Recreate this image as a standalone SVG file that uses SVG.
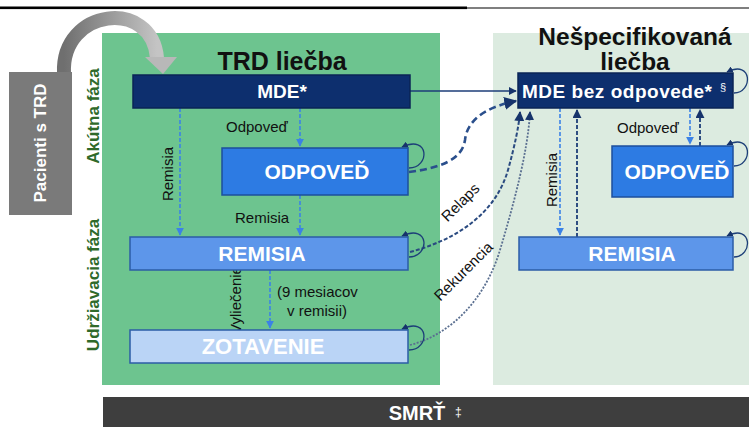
<svg xmlns="http://www.w3.org/2000/svg" width="749" height="427" viewBox="0 0 749 427">
<defs>
<style>
.t{font-family:"Liberation Sans",Arial,sans-serif}
.bw{fill:#ffffff;font-weight:bold;text-anchor:middle}
.lbl{fill:#111111;font-size:15px}
.ph{fill:#2f6a2a;font-size:17px;font-weight:bold;text-anchor:middle}
.navy{fill:#0d2f6e;stroke:#0a2556;stroke-width:1.5}
.odp{fill:#2d7be3;stroke:#1d4f9c;stroke-width:1.5}
.rem{fill:#5d96ea;stroke:#2b5ca6;stroke-width:1.5}
.zot{fill:#bad4f6;stroke:#2b5ca6;stroke-width:1.5}
.loop{fill:none;stroke:#1d3f78;stroke-width:1.3}
.dblue{fill:none;stroke:#3b82e6;stroke-width:1.6;stroke-dasharray:4 2}
.dnavy{fill:none;stroke:#1c3d78;stroke-width:1.8;stroke-dasharray:4 2}
</style>
<marker id="aN" viewBox="0 0 10 10" refX="9" refY="5" markerWidth="5" markerHeight="5" orient="auto"><path d="M0,0 L10,5 L0,10 z" fill="#16336b"/></marker>
<marker id="aB" viewBox="0 0 10 10" refX="9" refY="5" markerWidth="5" markerHeight="5" orient="auto"><path d="M0,0 L10,5 L0,10 z" fill="#3b82e6"/></marker>
<linearGradient id="gArc" x1="0" y1="0" x2="1" y2="0">
<stop offset="0" stop-color="#6f6f6f"/><stop offset="1" stop-color="#c4c4c4"/>
</linearGradient>
</defs>

<!-- top rule -->
<rect x="0" y="6.5" width="467" height="2.6" fill="#000"/>
<line x1="467" y1="8" x2="749" y2="8" stroke="#000" stroke-width="1.2"/>

<!-- panels -->
<rect x="102" y="33" width="338" height="352" fill="#6dc48f"/>
<rect x="493" y="33" width="256" height="352" fill="#dcebe0"/>
<rect x="103" y="397" width="646" height="30" fill="#3e3e3e"/>

<!-- patient box and arc -->
<g id="pacienti">
<path d="M64 73 C61 8 152 -2 157 58" fill="none" stroke="url(#gArc)" stroke-width="14"/>
<polygon points="145,57 177,57 163,74" fill="#b8b8b8"/>
<rect x="9" y="72" width="63" height="143" fill="#7a7a7a"/>
<text class="t bw" font-size="17" transform="translate(46,143) rotate(-90)">Pacienti s TRD</text>
</g>

<g id="phases">
<text class="t ph" transform="translate(99,116) rotate(-90)">Akútna fáza</text>
<text class="t ph" transform="translate(99,285) rotate(-90)">Udržiavacia fáza</text>
</g>

<g id="titles">
<text class="t" x="282" y="70" font-size="25" font-weight="bold" text-anchor="middle" fill="#111">TRD liečba</text>
<text class="t" x="635" y="45" font-size="24.5" font-weight="bold" text-anchor="middle" fill="#111">Nešpecifikovaná</text>
<text class="t" x="635" y="70" font-size="24.5" font-weight="bold" text-anchor="middle" fill="#111">liečba</text>
</g>

<!-- connectors -->
<g id="connectors">
<path class="dblue" d="M300 108 V146" marker-end="url(#aB)"/>
<path class="dblue" d="M180 108 V235" marker-end="url(#aB)"/>
<path class="dblue" d="M300 195 V235" marker-end="url(#aB)"/>
<path class="dblue" d="M270 270 V328" marker-end="url(#aB)"/>
<path d="M410 91 H516" fill="none" stroke="#1c3d78" stroke-width="1.6" marker-end="url(#aN)"/>
<path d="M409 172 C440 168 462 160 465 140 C467 122 482 108 516 101" fill="none" stroke="#2a4f8c" stroke-width="2.6" stroke-dasharray="7 4" marker-end="url(#aN)"/>
<path d="M410 252 C455 240 495 215 508 170 C515 145 519 125 520 112" fill="none" stroke="#2a4a80" stroke-width="2" stroke-dasharray="4 2" marker-end="url(#aN)"/>
<path d="M410 345 C450 335 485 300 500 250 C515 200 528 150 530 112" fill="none" stroke="#5a6f90" stroke-width="1.8" stroke-dasharray="2 1.5" marker-end="url(#aN)"/>
<path class="dblue" d="M560 108 V235" marker-end="url(#aB)"/>
<path class="dnavy" d="M577 237 V110" marker-end="url(#aN)"/>
<path class="dblue" d="M690 108 V144" marker-end="url(#aB)"/>
<path class="dnavy" d="M700 146 V110" marker-end="url(#aN)"/>
<!-- self loops -->
<path class="loop" d="M409 168 C430 168 430 134 402 147" marker-end="url(#aN)"/>
<path class="loop" d="M409 257 C430 257 430 223 402 236" marker-end="url(#aN)"/>
<path class="loop" d="M409 350 C430 350 430 316 402 329" marker-end="url(#aN)"/>
<path class="loop" d="M734 93 C753 93 753 59 727 72" marker-end="url(#aN)"/>
<path class="loop" d="M734 166 C753 166 753 132 727 145" marker-end="url(#aN)"/>
<path class="loop" d="M734 257 C753 257 753 223 727 236" marker-end="url(#aN)"/>
<!-- labels -->
<text class="t lbl" x="226" y="132">Odpoveď</text>
<text class="t lbl" transform="translate(173,174) rotate(-90)" text-anchor="middle">Remisia</text>
<text class="t lbl" x="235" y="223">Remisia</text>
<text class="t lbl" font-size="13" transform="translate(241,300) rotate(-90)" text-anchor="middle">Vyliečenie</text>
<text class="t lbl" x="277" y="297" font-size="15.5">(9 mesiacov</text>
<text class="t lbl" x="287" y="316" font-size="15.5">v remisii)</text>
<text class="t lbl" transform="translate(464,206) rotate(-45)" text-anchor="middle">Relaps</text>
<text class="t lbl" transform="translate(467,275) rotate(-45)" text-anchor="middle">Rekurencia</text>
<text class="t lbl" transform="translate(557,180) rotate(-90)" text-anchor="middle">Remisia</text>
<text class="t lbl" x="617" y="133">Odpoveď</text>
</g>

<!-- nodes -->
<g id="mde">
<rect class="navy" x="133" y="75" width="277" height="33"/>
<text class="t bw" x="282" y="98" font-size="19">MDE*</text>
</g>
<g id="odpoved-l">
<rect class="odp" x="222" y="148" width="186" height="47"/>
<text class="t bw" x="317" y="179" font-size="21">ODPOVEĎ</text>
</g>
<g id="remisia-l">
<rect class="rem" x="130" y="237" width="278" height="33"/>
<text class="t bw" x="262" y="261" font-size="21">REMISIA</text>
</g>
<g id="zotavenie">
<rect class="zot" x="130" y="330" width="278" height="33"/>
<text class="t bw" x="263" y="354" font-size="22">ZOTAVENIE</text>
</g>
<g id="mde-bez">
<rect class="navy" x="518" y="73" width="215" height="35"/>
<text class="t" x="522" y="98" font-size="19" font-weight="bold" fill="#fff" textLength="190">MDE bez odpovede*</text>
<text class="t" x="720" y="91" font-size="11" fill="#fff">§</text>
</g>
<g id="odpoved-r">
<rect class="odp" x="612" y="146" width="121" height="51"/>
<text class="t bw" x="677" y="179" font-size="21">ODPOVEĎ</text>
</g>
<g id="remisia-r">
<rect class="rem" x="519" y="237" width="214" height="33"/>
<text class="t bw" x="632" y="261" font-size="21">REMISIA</text>
</g>
<g id="smrt">
<text class="t bw" x="417" y="420" font-size="20">SMRŤ</text>
<text class="t" x="455" y="416" font-size="12" fill="#fff">‡</text>
</g>
</svg>
